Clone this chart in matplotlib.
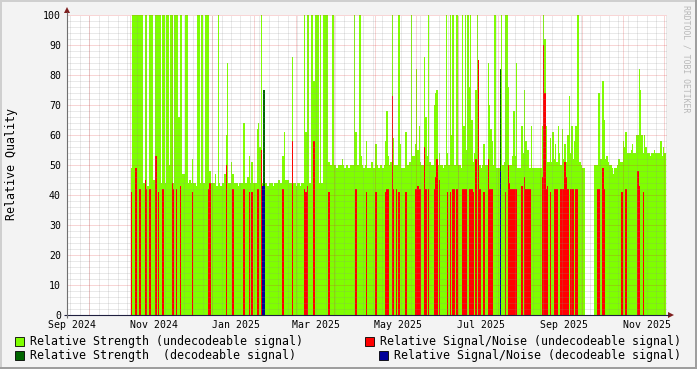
import numpy as np
import matplotlib
matplotlib.use("Agg")
import matplotlib.pyplot as plt
import matplotlib.dates as mdates
import matplotlib.transforms as mtransforms
from matplotlib.patches import Rectangle, Polygon

nan = float("nan")

# ---------------- data (daily values) ----------------
start_date = "2024-10-17"

strength_undecodeable = [
    49, 100, 100, 100, 100, 100, 100, 100, 100, 44,
    100, 100, 43, 100, 100, 100, 45, 45, 100, 100,
    100, 100, 44, 100, 100, 44, 100, 100, 50, 100,
    100, 44, 100, 100, 100, 66, 100, 100, 47, 47,
    100, 100, 44, 45, 44, 52, 44, 44, 43, 100,
    100, 44, 100, 44, 44, 100, 100, 100, 48, 44,
    44, 44, 47, 43, 100, 44, 43, 44, 44, 47,
    60, 84, 44, 44, 51, 47, 44, 44, 44, 43,
    44, 44, 44, 64, 44, 44, 46, 53, 44, 51,
    44, 44, 44, 62, 64, 56, 100, 44, 44, 44,
    44, 43, 44, 44, 44, 43, 44, 44, 44, 45,
    44, 44, 53, 61, 45, 45, 45, 44, 44, 86,
    44, 44, 43, 44, 44, 43, 44, 44, 100, 61,
    100, 100, 44, 100, 100, 78, 100, 100, 100, 44,
    100, 44, 100, 100, 100, 100, 51, 50, 50, 100,
    50, 50, 49, 50, 50, 50, 52, 50, 49, 50,
    50, 49, 50, 50, 50, 100, 61, 50, 50, 100,
    53, 50, 49, 50, 58, 49, 49, 49, 51, 49,
    49, 57, 50, 49, 50, 50, 49, 50, 58, 68,
    53, 50, 51, 100, 59, 50, 50, 50, 100, 57,
    49, 49, 49, 61, 50, 50, 51, 100, 53, 53,
    57, 82, 55, 63, 51, 50, 50, 86, 66, 53,
    100, 51, 50, 50, 70, 74, 75, 50, 54, 50,
    50, 49, 50, 100, 54, 50, 100, 60, 100, 50,
    50, 100, 50, 50, 49, 100, 63, 100, 55, 100,
    76, 100, 65, 51, 54, 75, 100, 53, 50, 49,
    50, 57, 50, 50, 84, 70, 62, 58, 50, 100,
    49, 49, 49, 49, 100, 50, 51, 100, 100, 76,
    50, 50, 53, 68, 53, 84, 49, 49, 49, 63,
    54, 75, 58, 55, 55, 49, 63, 49, 49, 49,
    49, 49, 49, 49, 63, 100, 92, 63, 51, 51,
    59, 51, 61, 52, 57, 51, 63, 54, 50, 62,
    52, 57, 51, 60, 73, 54, 63, 52, 58, 63,
    100, 100, 51, 50, 49, 49, nan, nan, nan, nan,
    nan, nan, nan, 50, 50, 50, 74, 52, 52, 78,
    65, 52, 53, 51, 50, 50, 49, 47, 49, 49,
    50, 52, 51, 51, 58, 56, 61, 54, 54, 54,
    55, 57, 54, 54, 60, 60, 82, 75, 60, 54,
    60, 56, 54, 54, 53, 54, 54, 55, 54, 54,
    54, 54, 58, 53, 56, 54,
]

snr_undecodeable = [
    41, 0, 0, 49, 0, 0, 42, 0, 0, 0,
    45, 42, 0, 42, 42, 0, 0, 0, 53, 0,
    41, 0, 0, 42, 0, 0, 0, 0, 0, 0,
    44, 42, 0, 42, 0, 0, 43, 0, 0, 0,
    0, 0, 0, 0, 0, 41, 0, 0, 0, 0,
    0, 0, 0, 0, 0, 0, 0, 42, 44, 0,
    0, 0, 0, 0, 0, 0, 0, 0, 0, 0,
    50, 0, 0, 0, 0, 42, 0, 0, 0, 0,
    0, 0, 0, 42, 0, 0, 0, 41, 0, 41,
    0, 0, 0, 42, 42, 0, 55, 0, 0, 0,
    0, 0, 0, 0, 0, 0, 0, 0, 0, 0,
    0, 0, 42, 0, 0, 0, 0, 0, 0, 58,
    0, 0, 0, 0, 0, 0, 0, 0, 42, 41,
    43, 0, 0, 0, 0, 58, 0, 0, 0, 0,
    0, 0, 0, 0, 0, 0, 41, 0, 0, 0,
    0, 0, 0, 0, 0, 0, 0, 0, 0, 0,
    0, 0, 0, 0, 0, 0, 42, 0, 0, 0,
    0, 0, 0, 0, 41, 0, 0, 0, 0, 0,
    0, 41, 0, 0, 0, 0, 0, 0, 41, 42,
    42, 0, 0, 73, 42, 0, 42, 0, 41, 0,
    0, 0, 0, 41, 0, 0, 0, 0, 0, 0,
    42, 42, 43, 42, 42, 0, 0, 56, 42, 0,
    42, 0, 0, 0, 42, 46, 52, 0, 45, 0,
    0, 0, 0, 0, 41, 0, 41, 0, 42, 42,
    0, 42, 0, 0, 0, 42, 42, 42, 42, 0,
    42, 42, 42, 41, 0, 52, 0, 85, 42, 0,
    0, 41, 0, 0, 52, 42, 42, 42, 0, 0,
    0, 0, 0, 0, 0, 0, 0, 41, 0, 50,
    44, 42, 42, 42, 42, 42, 0, 0, 0, 43,
    0, 46, 42, 42, 42, 42, 0, 0, 0, 0,
    0, 0, 0, 0, 46, 90, 74, 42, 43, 0,
    41, 0, 0, 42, 42, 42, 0, 0, 42, 42,
    42, 51, 46, 42, 0, 42, 42, 42, 0, 42,
    42, 0, 0, 0, 0, 0, 0, 0, 0, 0,
    0, 0, 0, 0, 0, 42, 42, 0, 0, 49,
    42, 0, 0, 0, 0, 0, 0, 0, 0, 0,
    0, 0, 0, 41, 0, 0, 42, 0, 0, 0,
    0, 0, 0, 0, 0, 48, 43, 0, 0, 41,
    0, 0, 0, 0, 0, 0, 0, 0, 0, 0,
    0, 0, 0, 0, 0, 0,
]

strength_decodeable_dates = ["2025-01-23", "2025-07-17"]
strength_decodeable_vals = [75, 82]
snr_decodeable_dates = ["2025-01-22", "2025-01-23", "2025-07-17"]
snr_decodeable_vals = [43, 43, 48]

x_tick_dates = ["2024-09-01", "2024-11-01", "2025-01-01", "2025-03-01",
                "2025-05-01", "2025-07-01", "2025-09-01", "2025-11-01"]
x_tick_labels = ["Sep 2024", "Nov 2024", "Jan 2025", "Mar 2025",
                 "May 2025", "Jul 2025", "Sep 2025", "Nov 2025"]
y_ticks = [0, 10, 20, 30, 40, 50, 60, 70, 80, 90, 100]

legend_labels = ["Relative Strength (undecodeable signal)",
                 "Relative Signal/Noise (undecodeable signal)",
                 "Relative Strength  (decodeable signal)",
                 "Relative Signal/Noise (decodeable signal)"]

# ---------------- style ----------------
plt.rcParams["font.family"] = ["DejaVu Sans Mono"]
C_LGREEN = "#7FFF00"
C_RED = "#FF0000"
C_DGREEN = "#006600"
C_BLUE = "#000099"
BACK = "#F3F3F3"

W, H = 697, 369
fig = plt.figure(figsize=(W / 100, H / 100), dpi=100, facecolor=BACK)
ax = fig.add_axes([67 / W, 1 - 315 / H, 600 / W, 300 / H])
ax.set_facecolor("white")

d0 = np.datetime64(start_date)
n = len(strength_undecodeable)
edges = mdates.date2num((d0 + np.arange(n + 1)).astype("datetime64[D]").astype(object))

ax.stairs(np.array(strength_undecodeable, float), edges, fill=True, baseline=0,
          color=C_LGREEN, linewidth=0, antialiased=False, zorder=1)
ax.stairs(np.array(snr_undecodeable, float), edges, fill=True, baseline=0,
          color=C_RED, linewidth=0, antialiased=False, zorder=1.1)
ax.bar(mdates.datestr2num(strength_decodeable_dates), strength_decodeable_vals,
       width=1, align="edge", color=C_DGREEN, linewidth=0, antialiased=False, zorder=1.2)
ax.bar(mdates.datestr2num(snr_decodeable_dates), snr_decodeable_vals,
       width=1, align="edge", color=C_BLUE, linewidth=0, antialiased=False, zorder=1.3)

base = mdates.datestr2num("2024-09-01")
ax.set_xlim(base - 2 / 1.35, base + 598 / 1.35)
ax.set_ylim(0, 100)

# grid (drawn on top, like rrdtool)
gcol = (0.56, 0.56, 0.56, 0.38)
mcol = (0.87, 0.19, 0.19, 0.40)
dash = (0, (1, 1))
minor_y = [v for v in range(2, 101, 2) if v % 10 != 0]
major_y = list(range(10, 101, 10))
ax.hlines(minor_y, *ax.get_xlim(), colors=[gcol], linewidth=0.72, linestyles=dash, zorder=3)
ax.hlines(major_y, *ax.get_xlim(), colors=[mcol], linewidth=0.72, linestyles=dash, zorder=3.1)
weeks = np.arange(np.datetime64("2024-09-02"), np.datetime64("2025-11-20"), 7)
wk = mdates.date2num(weeks.astype(object))
ax.vlines(wk, 0, 100, colors=[gcol], linewidth=0.72, linestyles=dash, zorder=3)
mids = [f"{y}-{m:02d}-16" for y, m in
        [(2024, 9), (2024, 10), (2024, 11), (2024, 12)] + [(2025, k) for k in range(1, 12)]]
ax.vlines(mdates.datestr2num(mids), 0, 100, colors=[mcol], linewidth=0.72,
          linestyles=dash, zorder=3.1)

ax.set_yticks(y_ticks)
ax.set_yticklabels([str(v) for v in y_ticks])
ax.set_xticks(mdates.datestr2num(x_tick_dates))
ax.set_xticklabels(x_tick_labels)
ax.tick_params(axis="y", length=0, pad=4.3, labelsize=7.1)
ax.tick_params(axis="x", length=0, pad=3.6, labelsize=7.1)
shift = mtransforms.ScaledTranslation(2.5 / 100, 0, fig.dpi_scale_trans)
for lab in ax.get_xticklabels():
    lab.set_transform(lab.get_transform() + shift)
for s in ax.spines.values():
    s.set_visible(False)

# ---------------- overlay in pixel coordinates ----------------
ov = fig.add_axes([0, 0, 1, 1], facecolor="none")
ov.set_xlim(0, W)
ov.set_ylim(H, 0)
ov.axis("off")

# 3D border
ov.add_patch(Rectangle((0, 0), W, 2, color="#CFCFCF", lw=0))
ov.add_patch(Rectangle((0, 0), 2, H, color="#CFCFCF", lw=0))
ov.add_patch(Rectangle((0, H - 2), W, 2, color="#9E9E9E", lw=0))
ov.add_patch(Rectangle((W - 2, 0), 2, H, color="#9E9E9E", lw=0))

# axes and arrows
ov.plot([64, 669], [315, 315], color="#1F1F3F", lw=0.8, solid_capstyle="butt")
ov.plot([67, 67], [318, 12], color="#707070", lw=0.8, solid_capstyle="butt")
ov.add_patch(Polygon([(668, 312), (668, 318), (674, 315)], closed=True, color="#7F1F1F", lw=0))
ov.add_patch(Polygon([(64, 13), (70, 13), (67, 7)], closed=True, color="#7F1F1F", lw=0))

# titles
ov.text(12, 164, "Relative Quality", rotation=90, ha="center", va="center",
        fontsize=8.35, color="black")
ov.text(686, 5, "RRDTOOL / TOBI OETIKER", rotation=270, ha="center", va="top",
        fontsize=5.9, color="#B8B8B8")

# legend
legend_items = [(15, 341, 30, C_LGREEN, legend_labels[0]),
                (365, 341, 380, C_RED, legend_labels[1]),
                (15, 355, 30, C_DGREEN, legend_labels[2]),
                (379, 355, 394, C_BLUE, legend_labels[3])]
for bx, by, tx, col, lab in legend_items:
    ov.add_patch(Rectangle((bx, by - 4.5), 9, 9, facecolor=col, edgecolor="#000000", lw=0.6))
    ov.text(tx, by + 0.5, lab, ha="left", va="center", fontsize=8.35, color="black")

fig.savefig("out.png", dpi=100, facecolor=BACK)
